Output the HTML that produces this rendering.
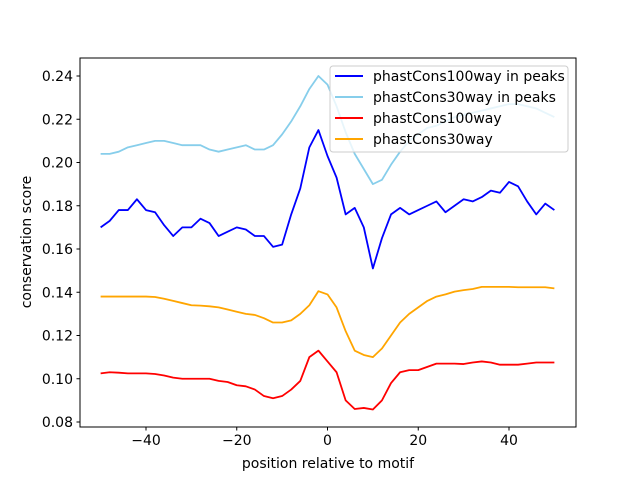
<!DOCTYPE html>
<html><head><meta charset="utf-8"><style>
body{margin:0;background:#fff;}
svg text{font-family:"DejaVu Sans","Liberation Sans",sans-serif;font-size:14px;fill:#000;}
</style></head><body>
<svg id="chart" width="640" height="480">
<rect x="80" y="58" width="496" height="369" fill="#fff" stroke="#000" stroke-width="1"/>
<g id="axes"></g>
<g id="series"></g>
<text x="328" y="468" text-anchor="middle">position relative to motif</text>
<text transform="translate(31,242) rotate(-90)" text-anchor="middle">conservation score</text>
<g>
<rect x="330" y="66" width="238" height="86" fill="#fff" fill-opacity="0.8" stroke="#ccc" rx="3"/>
<g><line x1="335" x2="363" y1="76" y2="76" stroke="#0000ff" stroke-width="2"/><text x="373" y="81">phastCons100way in peaks</text></g>
<g><line x1="335" x2="363" y1="97" y2="97" stroke="#87ceeb" stroke-width="2"/><text x="373" y="102">phastCons30way in peaks</text></g>
<g><line x1="335" x2="363" y1="118" y2="118" stroke="#ff0000" stroke-width="2"/><text x="373" y="123">phastCons100way</text></g>
<g><line x1="335" x2="363" y1="139" y2="139" stroke="#ffa500" stroke-width="2"/><text x="373" y="144">phastCons30way</text></g>
</g>
</svg>
<script>
const positions = [];
for (let i = -50; i <= 50; i += 2) positions.push(i);
const blueValues = [0.170,0.173,0.178,0.178,0.183,0.178,0.177,0.171,0.166,0.170,0.170,0.174,0.172,0.166,0.168,0.170,0.169,0.166,0.166,0.161,0.162,0.176,0.188,0.207,0.215,0.203,0.193,0.176,0.179,0.170,0.151,0.165,0.176,0.179,0.176,0.178,0.180,0.182,0.177,0.180,0.183,0.182,0.184,0.187,0.186,0.191,0.189,0.182,0.176,0.181,0.178];
const skyValues = [0.204,0.204,0.205,0.207,0.208,0.209,0.210,0.210,0.209,0.208,0.208,0.208,0.206,0.205,0.206,0.207,0.208,0.206,0.206,0.208,0.213,0.219,0.226,0.234,0.240,0.236,0.226,0.214,0.204,0.197,0.190,0.192,0.199,0.205,0.210,0.213,0.216,0.217,0.219,0.221,0.222,0.223,0.224,0.225,0.226,0.227,0.227,0.226,0.225,0.223,0.221];
const redValues = [0.1025,0.103,0.1028,0.1025,0.1025,0.1025,0.1022,0.1015,0.1005,0.100,0.100,0.100,0.100,0.099,0.0985,0.097,0.0965,0.095,0.092,0.091,0.092,0.095,0.099,0.110,0.113,0.108,0.103,0.090,0.086,0.0865,0.0858,0.090,0.098,0.103,0.104,0.104,0.1055,0.107,0.107,0.107,0.1068,0.1075,0.108,0.1075,0.1065,0.1065,0.1065,0.107,0.1075,0.1075,0.1075];
const orangeValues = [0.138,0.138,0.138,0.138,0.138,0.138,0.1378,0.137,0.136,0.135,0.134,0.1338,0.1335,0.133,0.132,0.131,0.130,0.1295,0.128,0.126,0.126,0.127,0.130,0.134,0.1405,0.139,0.133,0.122,0.113,0.111,0.110,0.114,0.120,0.126,0.130,0.133,0.136,0.138,0.139,0.1403,0.141,0.1415,0.1425,0.1425,0.1425,0.1425,0.1423,0.1423,0.1423,0.1423,0.1418];
const xTicks = [-40,-20,0,20,40];
const yTicks = [0.08,0.10,0.12,0.14,0.16,0.18,0.20,0.22,0.24];

const xs = v => 327.5 + 4.5375 * v;
const ys = v => 76 + (0.24 - v) * 2162.5;
const NS = 'http://www.w3.org/2000/svg';
const axes = document.getElementById('axes');
const series = document.getElementById('series');

xTicks.forEach(t => {
  const l = document.createElementNS(NS, 'line');
  l.setAttribute('x1', xs(t)); l.setAttribute('x2', xs(t));
  l.setAttribute('y1', 427); l.setAttribute('y2', 430.5);
  l.setAttribute('stroke', '#000');
  
  
  axes.appendChild(l);
  const tx = document.createElementNS(NS, 'text');
  tx.setAttribute('x', xs(t)); tx.setAttribute('y', 445);
  tx.setAttribute('text-anchor', 'middle');
  tx.textContent = t < 0 ? '\u2212' + Math.abs(t) : String(t);
  
  
  axes.appendChild(tx);
});
yTicks.forEach(t => {
  const l = document.createElementNS(NS, 'line');
  l.setAttribute('x1', 76.5); l.setAttribute('x2', 80);
  l.setAttribute('y1', ys(t)); l.setAttribute('y2', ys(t));
  l.setAttribute('stroke', '#000');
  
  
  axes.appendChild(l);
  const tx = document.createElementNS(NS, 'text');
  tx.setAttribute('x', 73); tx.setAttribute('y', ys(t) + 5);
  tx.setAttribute('text-anchor', 'end');
  tx.textContent = t.toFixed(2);
  
  
  axes.appendChild(tx);
});

function drawLine(vals, color, name) {
  const p = document.createElementNS(NS, 'polyline');
  p.setAttribute('points', vals.map((v, i) => xs(positions[i]) + ',' + ys(v)).join(' '));
  p.setAttribute('fill', 'none');
  p.setAttribute('stroke', color);
  p.setAttribute('stroke-width', '1.8');
  p.setAttribute('stroke-linejoin', 'round');
  
  
  series.appendChild(p);
}
drawLine(blueValues, '#0000ff', 'line-phastcons100way-peaks');
drawLine(skyValues, '#87ceeb', 'line-phastcons30way-peaks');
drawLine(redValues, '#ff0000', 'line-phastcons100way');
drawLine(orangeValues, '#ffa500', 'line-phastcons30way');
</script>
</body></html>
